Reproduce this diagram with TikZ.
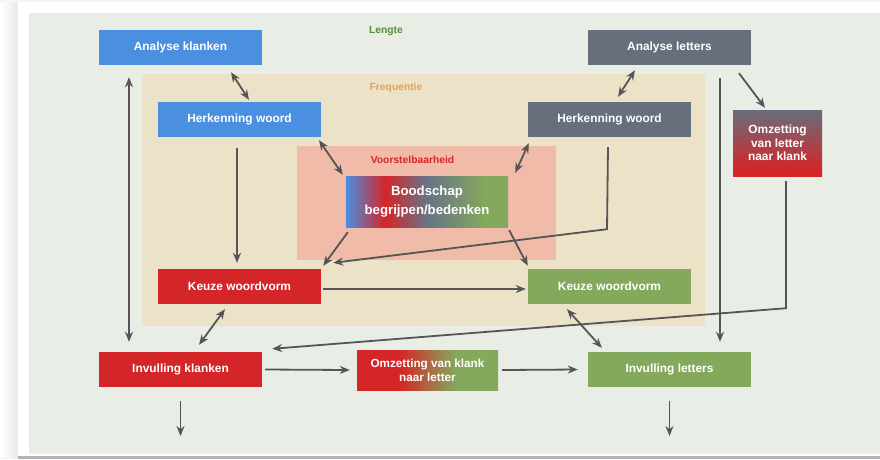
\documentclass[tikz,border=0pt]{standalone}
\usepackage{fontspec}
\setmainfont{Liberation Sans}
\usetikzlibrary{arrows.meta,calc}
\definecolor{cblue}{HTML}{4A8FE0}
\definecolor{cgray}{HTML}{676E7C}
\definecolor{cred}{HTML}{D42628}
\definecolor{cgreen}{HTML}{84A85C}
\definecolor{cslate}{HTML}{687488}
\definecolor{carrow}{HTML}{555555}
\definecolor{cpanel}{HTML}{E8EEE5}
\definecolor{ctan}{HTML}{EBE2C8}
\definecolor{cpink}{HTML}{F0BCA9}
\definecolor{clengte}{HTML}{5B8C3A}
\definecolor{cfreq}{HTML}{E6A254}
\definecolor{cvoor}{HTML}{D42628}
\pgfdeclarehorizontalshading{boodsh}{100bp}{color(0bp)=(cblue); color(25bp)=(cblue); color(37bp)=(cred); color(50bp)=(cslate); color(68bp)=(cgreen); color(75bp)=(cgreen); color(100bp)=(cgreen)}
\pgfdeclarehorizontalshading{oklsh}{100bp}{color(0bp)=(cred); color(25bp)=(cred); color(40bp)=(cred); color(60bp)=(cgreen); color(75bp)=(cgreen); color(100bp)=(cgreen)}
\pgfdeclareverticalshading{olksh}{100bp}{color(0bp)=(cred); color(25bp)=(cred); color(30bp)=(cred); color(75bp)=(cgray); color(100bp)=(cgray)}
\tikzset{
  box/.style={draw=none, inner sep=0pt, minimum width=163pt, minimum height=35pt, text=white, align=center, font=\bfseries\fontsize{11.9}{13.5}\selectfont},
  lbl/.style={inner sep=0pt, font=\bfseries\fontsize{10.3}{12}\selectfont},
  arr/.style={draw=carrow, line width=1.8pt, -{Stealth[length=10pt,width=8pt]}},
  darr/.style={draw=carrow, line width=1.8pt, {Stealth[length=10pt,width=8pt]}-{Stealth[length=10pt,width=8pt]}}
}
\begin{document}
\begin{tikzpicture}[x=1pt,y=-1pt]
\useasboundingbox (0,0) rectangle (880,459);
% page and background
\fill[gray!8] (0,0) rectangle (880,459);
\shade[left color=white, right color=gray!18] (0,2) rectangle (18,457);
\fill[white] (18,2) rectangle (880,456);
\fill[gray!60] (18,456) rectangle (880,459);
\fill[cpanel] (29,13) rectangle (880,454);
\fill[ctan] (142,74) rectangle (705,326);
\fill[cpink] (297,146) rectangle (556,260);
% labels
\node[lbl, text=clengte] (lengte) at (386,31) {Lengte};
\node[lbl, text=cfreq] (freq) at (396,88) {Frequentie};
\node[lbl, text=cvoor] (voor) at (412.5,160) {Voorstelbaarheid};
% nodes
\node[box, fill=cblue] (ak) at (180.5,47.5) {Analyse klanken};
\node[box, fill=cgray] (al) at (669.5,47.5) {Analyse letters};
\node[box, fill=cblue] (hl) at (239.5,119.5) {Herkenning woord};
\node[box, fill=cgray] (hr) at (609.5,119.5) {Herkenning woord};
\node[box, shading=olksh, minimum width=89pt, minimum height=66pt] (olk) at (777.5,143) {Omzetting\\van letter\\naar klank};
\node[box, shading=boodsh, minimum width=162pt, minimum height=51pt, font=\bfseries\fontsize{13.2}{18.5}\selectfont] (bood) at (427,201.5) {Boodschap\\begrijpen/bedenken};
\node[box, fill=cred] (kl) at (239.5,286.5) {Keuze woordvorm};
\node[box, fill=cgreen] (kr) at (609.5,286.5) {Keuze woordvorm};
\node[box, fill=cred] (ik) at (180.5,369.5) {Invulling klanken};
\node[box, shading=oklsh, minimum width=141pt, minimum height=40pt, font=\bfseries\fontsize{11.7}{14}\selectfont] (okl) at (427.5,370) {Omzetting van klank\\naar letter};
\node[box, fill=cgreen] (il) at (669.5,369.5) {Invulling letters};
\coordinate (ikout) at (180.5,436);
\coordinate (ilout) at (669.5,436);
% connectors
\draw[darr] ($(ak.south)+(50.5,7)$) -- ($(hl.north)+(9.5,-2)$);
\draw[darr] ($(hl.south)+(79.5,3)$) -- ($(bood.north west)+(-3,-1)$);
\draw[darr] ($(al.south)+(-34.5,5)$) -- ($(hr.north)+(8.5,-5)$);
\draw[darr] ($(hr.south west)+(1,6)$) -- ($(bood.north east)+(7,-3)$);
\draw[arr] ($(al.south)+(69.5,8)$) -- ($(olk.north)+(-12.5,-2)$);
\draw[darr] ($(ak.south)+(-51.5,12)$) -- ($(ik.north)+(-51.5,-10)$);
\draw[arr] ($(hl.south)+(-2.5,11)$) -- ($(kl.north)+(-2.5,-6)$);
\draw[arr] ($(bood.south west)+(2,5)$) -- ($(kl.north east)+(2,-3)$);
\draw[arr] ($(hr.south)+(-1.5,10)$) -- ($(hr.south)+(-2.5,92)$) -- ($(kl.north east)+(12,-6)$);
\draw[arr] ($(bood.south east)+(1,3)$) -- ($(kr.north west)+(0,-3)$);
\draw[arr] ($(kl.east)+(2,2.5)$) -- ($(kr.west)+(-2,2.5)$);
\draw[darr] ($(kl.south)+(-14.5,5)$) -- ($(ik.north)+(18.5,-7)$);
\draw[arr] ($(olk.south)+(8.5,5)$) -- ($(olk.south)+(8.5,132)$) -- ($(ik.north east)+(10,-3)$);
\draw[arr] ($(al.south)+(50.5,13)$) -- ($(il.north)+(50.5,-10)$);
\draw[darr] ($(kr.south)+(-42.5,5)$) -- ($(il.north west)+(14,-4)$);
\draw[arr] ($(ik.east)+(3,0)$) -- ($(okl.west)+(-7,0)$);
\draw[arr] ($(okl.east)+(4,0)$) -- ($(il.west)+(-10,0)$);
\draw[arr] ($(ik.south)+(0,14)$) -- (ikout);
\draw[arr] ($(il.south)+(0,14)$) -- (ilout);
\end{tikzpicture}
\end{document}
